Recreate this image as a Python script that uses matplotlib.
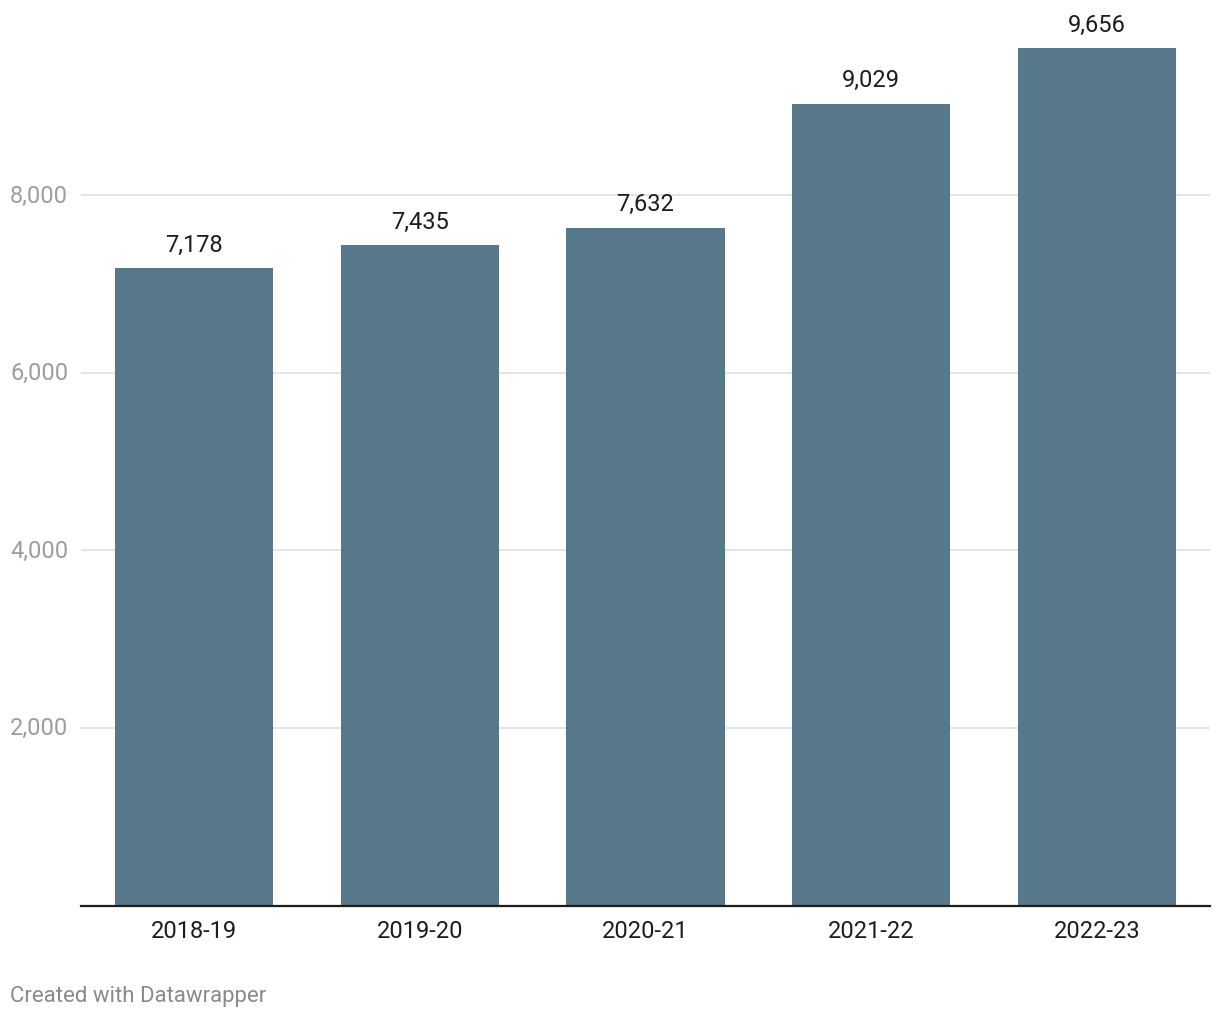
import matplotlib
matplotlib.use("Agg")
import matplotlib.pyplot as plt
import matplotlib.transforms as mtransforms

categories = ["2018-19", "2019-20", "2020-21", "2021-22", "2022-23"]
values = [7178, 7435, 7632, 9029, 9656]
yticks = [2000, 4000, 6000, 8000]

plt.rcParams['font.family'] = ['Roboto', 'DejaVu Sans']

W, H = 1220, 1020
fig = plt.figure(figsize=(W/100, H/100), dpi=100)
left, right, bottom, top = 81, 1210, 906.5, 49
ax = fig.add_axes([left/W, 1-bottom/H, (right-left)/W, (bottom-top)/H])

x = range(len(categories))
bars = ax.bar(x, values, width=0.70, color="#56788a", zorder=2)
ax.set_xlim(-0.5, len(categories)-0.5)
ax.set_ylim(0, max(values))

for xi, v in zip(x, values):
    ax.annotate(f"{v:,}", (xi, v), xytext=(0, 9), textcoords="offset points",
                ha="center", va="bottom", fontsize=17, color="#1d1d1d", annotation_clip=False)

ax.set_yticks(yticks)
ax.yaxis.grid(True, color="#e2e2e2", linewidth=1.3, zorder=0)
ax.tick_params(axis="y", length=0, labelleft=False)
blend = mtransforms.blended_transform_factory(fig.transFigure, ax.transData)
for t in yticks:
    ax.text(10/W, t, f"{t:,}", transform=blend,
            ha="left", va="center", fontsize=17, color="#9d9d9d")

ax.set_xticks(list(x))
ax.set_xticklabels(categories, fontsize=17, color="#1d1d1d")
ax.tick_params(axis="x", length=0, pad=10)

for s in ["top", "right", "left"]:
    ax.spines[s].set_visible(False)
ax.spines["bottom"].set_color("#1d1d1d")
ax.spines["bottom"].set_linewidth(1.6)
ax.spines["bottom"].set_zorder(3)

fig.text(10/W, 1-997/H, "Created with Datawrapper", ha="left", va="center",
         fontsize=16, color="#8a8a8a")

fig.savefig("out.png", dpi=100, facecolor="white")
